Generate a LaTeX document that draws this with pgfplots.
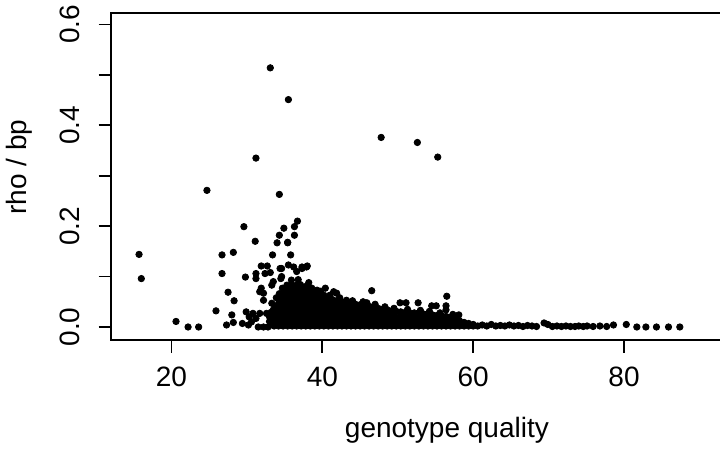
\documentclass[border=0pt]{standalone}
\usepackage{fontspec}
\setmainfont{Liberation Sans}
\usepackage{pgfplots}
\pgfplotsset{compat=1.18}
\begin{document}
\begin{tikzpicture}
\useasboundingbox (0,0) rectangle (360bp,225.5bp);
\clip (0,0) rectangle (360bp,225.5bp);
\begin{axis}[
  at={(55.65bp,55.5bp)}, anchor=south west,
  scale only axis, width=320.85bp, height=163.65bp,
  xmin=12.02, xmax=97.1, ymin=-0.0258, ymax=0.6234,
  axis line style={line width=0.9bp},
  every tick/.style={black, line width=0.9bp},
  tick align=outside, tick pos=left,
  major tick length=6.35bp,
  xtick={20,40,60,80}, xticklabels={20,40,60,80},
  ytick={0,0.1,0.2,0.3,0.4,0.5,0.6},
  yticklabels={0.0,,0.2,,0.4,,0.6},
  /pgf/number format/assume math mode=true,
  xticklabel style={font=\fontsize{14bp}{16bp}\selectfont, anchor=north, inner sep=0pt, yshift=-7bp},
  yticklabel style={font=\fontsize{14bp}{16bp}\selectfont, rotate=90, anchor=south, inner sep=0pt, yshift=9.3bp},
  xlabel={genotype quality},
  ylabel={rho / bp},
  xlabel style={font=\fontsize{14bp}{16bp}\selectfont, at={(axis description cs:0.523,-0.2964)}, anchor=base, inner sep=0pt},
  ylabel style={font=\fontsize{14bp}{16bp}\selectfont, at={(axis description cs:-0.1318,0.5286)}, anchor=base, rotate=0, inner sep=0pt},
  clip=false,
]
\addplot[only marks, mark=*, mark size=1.6bp, mark options={fill=black, draw=none}] coordinates {
(15.7,0.144) (16.0,0.096) (20.6,0.011) (22.2,0.0) (23.6,0.0) (24.7,0.271) (25.9,0.032)
(26.7,0.143) (26.7,0.106) (27.5,0.069) (28.3,0.052) (28.2,0.148) (28.0,0.024) (27.3,0.004)
(28.2,0.009) (29.6,0.199) (29.8,0.099) (29.9,0.030) (29.4,0.007) (30.3,0.020) (30.8,0.027)
(31.2,0.017) (31.5,0.0) (32.2,0.0) (32.8,0.0) (33.3,0.007) (30.2,0.004) (30.6,0.010)
(31.1,0.170) (31.2,0.335) (31.2,0.106) (31.2,0.096) (31.9,0.121) (32.7,0.121) (32.4,0.106)
(33.1,0.108) (31.9,0.077) (32.2,0.067) (31.7,0.070) (33.3,0.083) (33.5,0.090) (32.2,0.053)
(31.7,0.027) (32.6,0.027) (33.5,0.034) (33.3,0.047) (33.1,0.514) (35.5,0.451) (47.8,0.376)
(52.6,0.366) (55.3,0.337) (34.3,0.263) (33.4,0.143) (34.0,0.167) (35.4,0.167) (34.3,0.182)
(34.9,0.196) (36.3,0.199) (36.7,0.210) (36.3,0.182) (35.8,0.143) (34.6,0.116) (35.5,0.123)
(36.2,0.119) (37.3,0.119) (38.0,0.121) (34.6,0.100) (34.7,0.077) (35.1,0.067) (35.4,0.168)
(34.4,0.116) (36.6,0.110) (35.9,0.093) (34.5,0.096) (37.9,0.119) (37.3,0.116) (38.6,0.077)
(39.3,0.073) (40.4,0.077) (41.5,0.070) (41.9,0.067) (43.2,0.053) (45.4,0.050) (46.55,0.072)
(50.3,0.048) (51.1,0.048) (52.7,0.048) (54.5,0.042) (55.1,0.042) (56.5,0.061) (56.4,0.042)
(56.4,0.034) (58.1,0.024)
(39.8,0.071) (41.0,0.063) (42.3,0.058) (44.0,0.052) (45.9,0.048) (47.0,0.045) (48.3,0.040)
(49.5,0.037) (51.3,0.035) (53.0,0.033) (54.2,0.031) (55.6,0.028) (57.3,0.025) (38.2,0.088)
(33.0,0.011) (33.0,0.020) (33.2,0.029)
(33.6,0.002) (33.6,0.011) (33.6,0.020) (33.6,0.029) (33.8,0.040) (33.9,0.058)
(34.2,0.002) (34.2,0.011) (34.2,0.020) (34.2,0.029) (34.2,0.038) (34.2,0.047) (34.2,0.056) (34.3,0.066)
(34.8,0.002) (34.8,0.011) (34.8,0.020) (34.8,0.029) (34.8,0.038) (34.8,0.047) (34.8,0.056) (34.8,0.065) (34.9,0.074)
(35.4,0.002) (35.4,0.011) (35.4,0.020) (35.4,0.029) (35.4,0.038) (35.4,0.047) (35.4,0.056) (35.4,0.065) (35.4,0.074) (35.3,0.083)
(36.0,0.002) (36.0,0.011) (36.0,0.020) (36.0,0.029) (36.0,0.038) (36.0,0.047) (36.0,0.056) (36.0,0.065) (36.0,0.074) (36.0,0.083)
(36.6,0.002) (36.6,0.011) (36.6,0.020) (36.6,0.029) (36.6,0.038) (36.6,0.047) (36.6,0.056) (36.6,0.065) (36.6,0.074) (36.6,0.083) (36.8,0.094)
(37.2,0.002) (37.2,0.011) (37.2,0.020) (37.2,0.029) (37.2,0.038) (37.2,0.047) (37.2,0.056) (37.2,0.065) (37.2,0.074) (37.1,0.084)
(37.8,0.002) (37.8,0.011) (37.8,0.020) (37.8,0.029) (37.8,0.038) (37.8,0.047) (37.8,0.056) (37.8,0.065) (37.8,0.074) (37.9,0.081)
(38.4,0.002) (38.4,0.011) (38.4,0.020) (38.4,0.029) (38.4,0.038) (38.4,0.047) (38.4,0.056) (38.4,0.065) (38.4,0.074)
(39.0,0.002) (39.0,0.011) (39.0,0.020) (39.0,0.029) (39.0,0.038) (39.0,0.047) (39.0,0.056) (39.0,0.065) (39.1,0.071)
(39.6,0.002) (39.6,0.011) (39.6,0.020) (39.6,0.029) (39.6,0.038) (39.6,0.047) (39.6,0.056) (39.6,0.065)
(40.2,0.002) (40.2,0.011) (40.2,0.020) (40.2,0.029) (40.2,0.038) (40.2,0.047) (40.2,0.056) (40.2,0.063)
(40.8,0.002) (40.8,0.011) (40.8,0.020) (40.8,0.029) (40.8,0.038) (40.8,0.047) (40.8,0.056)
(41.4,0.002) (41.4,0.011) (41.4,0.020) (41.4,0.029) (41.4,0.038) (41.4,0.047) (41.4,0.054)
(42.0,0.002) (42.0,0.011) (42.0,0.020) (42.0,0.029) (42.0,0.038) (42.0,0.047) (42.0,0.052)
(42.6,0.002) (42.6,0.011) (42.6,0.020) (42.6,0.029) (42.6,0.038) (42.6,0.047) (42.6,0.050)
(43.2,0.002) (43.2,0.011) (43.2,0.020) (43.2,0.029) (43.2,0.038) (43.2,0.047)
(43.8,0.002) (43.8,0.011) (43.8,0.020) (43.8,0.029) (43.8,0.038) (43.8,0.046)
(44.4,0.002) (44.4,0.011) (44.4,0.020) (44.4,0.029) (44.4,0.038) (44.4,0.045)
(45.0,0.002) (45.0,0.011) (45.0,0.020) (45.0,0.029) (45.0,0.038) (45.0,0.044)
(45.6,0.002) (45.6,0.011) (45.6,0.020) (45.6,0.029) (45.6,0.038) (45.6,0.043)
(46.2,0.002) (46.2,0.011) (46.2,0.020) (46.2,0.029) (46.2,0.038) (46.2,0.041)
(46.8,0.002) (46.8,0.011) (46.8,0.020) (46.8,0.029) (46.8,0.039)
(47.4,0.002) (47.4,0.011) (47.4,0.020) (47.4,0.029) (47.4,0.037)
(48.0,0.002) (48.0,0.011) (48.0,0.020) (48.0,0.029) (48.0,0.035)
(48.6,0.002) (48.6,0.011) (48.6,0.020) (48.6,0.029) (48.6,0.034)
(49.2,0.002) (49.2,0.011) (49.2,0.020) (49.2,0.029) (49.2,0.032)
(49.8,0.002) (49.8,0.011) (49.8,0.020) (49.8,0.031)
(50.4,0.002) (50.4,0.011) (50.4,0.020) (50.4,0.030)
(51.0,0.002) (51.0,0.011) (51.0,0.020) (51.0,0.029)
(51.6,0.002) (51.6,0.011) (51.6,0.020) (51.6,0.028)
(52.2,0.002) (52.2,0.011) (52.2,0.020) (52.2,0.028)
(52.8,0.002) (52.8,0.011) (52.8,0.020) (52.8,0.027)
(53.4,0.002) (53.4,0.011) (53.4,0.020) (53.4,0.026)
(54.0,0.002) (54.0,0.011) (54.0,0.020) (54.0,0.025)
(54.6,0.002) (54.6,0.011) (54.6,0.018) (54.6,0.024)
(55.2,0.002) (55.2,0.011) (55.2,0.018) (55.2,0.023)
(55.8,0.002) (55.8,0.011) (55.8,0.017) (55.8,0.022)
(56.4,0.002) (56.4,0.011) (56.4,0.017) (56.4,0.021)
(57.0,0.002) (57.0,0.011) (57.0,0.019)
(57.6,0.002) (57.6,0.010) (57.6,0.016)
(58.2,0.002) (58.2,0.007) (58.2,0.012)
(58.8,0.002) (58.8,0.009)
(59.4,0.002) (59.4,0.007)
(60.0,0.002) (60.0,0.005)
(60.6,0.002) (61.2,0.004) (61.8,0.002) (62.4,0.005) (63.0,0.002) (63.6,0.003)
(64.2,0.002) (64.8,0.004) (65.4,0.002) (66.0,0.003) (66.6,0.001) (67.2,0.003)
(67.8,0.002) (68.4,0.001) (69.4,0.008) (69.9,0.005) (70.5,0.001) (71.1,0.002)
(71.7,0.001) (72.3,0.002) (72.9,0.001) (73.5,0.001) (74.0,0.002) (74.6,0.001)
(75.1,0.002) (75.9,0.001) (76.8,0.002) (77.7,0.001) (78.6,0.004) (80.3,0.005)
(81.7,0.0) (82.9,0.0) (84.3,0.0) (85.9,0.0) (87.4,0.0)
};
\end{axis}
\end{tikzpicture}
\end{document}
